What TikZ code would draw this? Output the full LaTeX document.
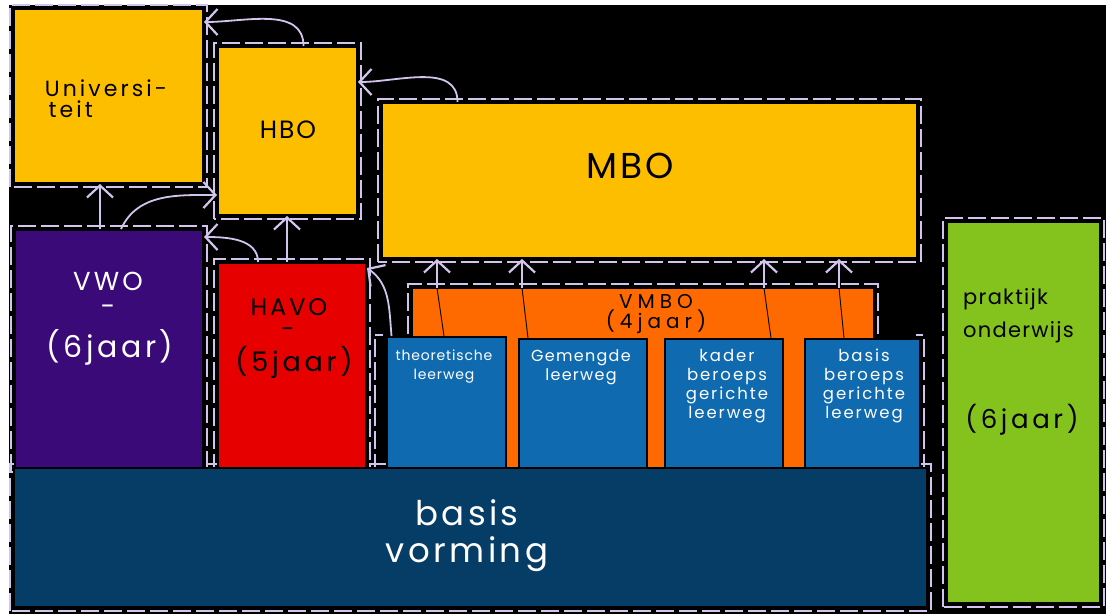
\documentclass[tikz,border=0pt]{standalone}
\usepackage{fontspec}
\setmainfont{Poppins}
\usetikzlibrary{arrows.meta}
\definecolor{yel}{HTML}{FDBE00}
\definecolor{pur}{HTML}{3A0A78}
\definecolor{redb}{HTML}{E60000}
\definecolor{ora}{HTML}{FF6A00}
\definecolor{blu}{HTML}{0F6AB0}
\definecolor{dblu}{HTML}{053D66}
\definecolor{grn}{HTML}{84C21E}
\definecolor{lav}{HTML}{D2C4EC}
\newcommand{\fs}[3]{\fontsize{#1}{#2}\selectfont\addfontfeatures{LetterSpace=#3}}
\tikzset{
  hd/.tip={Straight Barb[length=12pt,width=26pt,line width=2.2pt]},
}
\begin{document}
\begin{tikzpicture}[x=1pt,y=-1pt,
  box/.style={draw=black, line width=2pt, inner sep=0pt, rectangle},
  frame/.style={draw=lav, line width=1.3pt, dash pattern=on 18pt off 5pt},
  arr/.style={draw=lav, line width=1.8pt, -hd},
  inl/.style={draw=black, line width=0.9pt},
  lbl/.style={inner sep=0pt, align=center},
  wl/.style={lbl, text=white},
]
\useasboundingbox (0,0) rectangle (1106,614);
\fill[white] (0,0) rectangle (1106,614);
\fill[black] (9,5) rectangle (1106,614);

% coordinates of boxes (for the frames drawn underneath)
\coordinate (unisw) at (14,183);   \coordinate (unine) at (203,9);
\coordinate (hbosw) at (218,215);  \coordinate (hbone) at (357,47);
\coordinate (mbosw) at (382,258);  \coordinate (mbone) at (917,103);
\coordinate (vwosw) at (15,468);   \coordinate (vwone) at (203,230);
\coordinate (havosw) at (218,468); \coordinate (havone) at (366,263);
\coordinate (vmbosw) at (412,468); \coordinate (vmbone) at (874,288);
\coordinate (bvsw) at (14,607);    \coordinate (bvne) at (927,468);
\coordinate (praksw) at (947,603); \coordinate (prakne) at (1100,222);
\coordinate (thsw) at (387,468);   \coordinate (thne) at (506,337);
\coordinate (bbsw) at (805,468);   \coordinate (bbne) at (920,339);

% sketch frames (under the boxes)
\foreach \b in {uni,hbo,mbo,vwo,havo,vmbo,bv,prak}{
  \draw[frame] ([shift={(-4,4)}]\b sw) rectangle ([shift={(4,-4)}]\b ne);
}
\draw[frame] ([shift={(-12,4)}]thsw) -- ([shift={(-12,-2)}]thsw |- thne);
\draw[frame] ([shift={(-4,-2)}]thsw |- thne) -- ([shift={(-12,-2)}]thsw |- thne);
\draw[frame] ([shift={(4,4)}]bbne |- bbsw) -- ([shift={(4,-4)}]bbne) -- ([shift={(-4,-4)}]bbne);

% boxes
\node[box, fill=yel, minimum width=189pt, minimum height=174pt] (uni) at (108.5,96) {};
\node[box, fill=yel, minimum width=139pt, minimum height=168pt] (hbo) at (287.5,131) {};
\node[box, fill=yel, minimum width=535pt, minimum height=155pt] (mbo) at (649.5,180.5) {};
\node[box, fill=pur, minimum width=188pt, minimum height=238pt] (vwo) at (109,349) {};
\node[box, fill=redb, minimum width=148pt, minimum height=205pt] (havo) at (292,365.5) {};
\node[box, fill=ora, minimum width=462pt, minimum height=180pt] (vmbo) at (643,378) {};
\node[box, fill=blu, minimum width=119pt, minimum height=131pt] (theo) at (446.5,402.5) {};
\node[box, fill=blu, minimum width=128pt, minimum height=129pt] (gem) at (583,403.5) {};
\node[box, fill=blu, minimum width=118pt, minimum height=129pt] (kader) at (724,403.5) {};
\node[box, fill=blu, minimum width=115pt, minimum height=129pt] (basisb) at (862.5,403.5) {};
\node[box, fill=dblu, minimum width=913pt, minimum height=139pt] (bv) at (470.5,537.5) {};
\node[box, fill=grn, minimum width=153pt, minimum height=381pt] (prak) at (1023.5,412.5) {};

% labels
\node[lbl, align=left, font=\fs{22}{21}{14}] (unit) at (106,99) {Universi-\\\,teit};
\node[lbl, font=\fs{25}{24}{8}] (hbot) at (288,130) {HBO};
\node[lbl, font=\fs{36}{32}{8}] (mbot) at (630,166) {MBO};
\node[wl, font=\fs{26}{24}{12}] (vwot1) at (108,281) {VWO};
\node[wl, font=\fs{26}{24}{12}] (vwot2) at (108,310) {-};
\node[wl, font=\fs{30}{28}{12}] (vwot3) at (110,347) {(6jaar)};
\node[lbl, font=\fs{24}{24}{12}] (havot1) at (289,307) {HAVO};
\node[lbl, font=\fs{24}{24}{12}] (havot2) at (288,333) {-};
\node[lbl, font=\fs{27}{26}{14}] (havot3) at (294,362) {(5jaar)};
\node[lbl, font=\fs{20}{18}{25}] (vmbot) at (656,314) {VMBO\\(4jaar)};
\node[wl, font=\fs{14}{19}{6}] (theot) at (444,367) {theoretische\\leerweg};
\node[wl, font=\fs{16}{19}{8}] (gemt) at (581,367) {Gemengde\\leerweg};
\node[wl, font=\fs{16.5}{19}{12}] (kadert) at (727,386) {kader\\beroeps\\gerichte\\leerweg};
\node[wl, font=\fs{16.5}{19}{12}] (basisbt) at (864,386) {basis\\beroeps\\gerichte\\leerweg};
\node[wl, font=\fs{34}{37}{10}] (bvt) at (467,536) {basis\\vorming};
\node[lbl, align=left, anchor=west, font=\fs{21}{33}{6}] (prakt) at (963,316) {praktijk\\onderwijs};
\node[lbl, font=\fs{26}{24}{14}] (prakt2) at (1022,420) {(6jaar)};

% connectors
\draw[arr] ([xshift=-9]vwo.north) -- ([xshift=-9]vwo.north |- uni.south);
\draw[arr] ([xshift=12]vwo.north) to[out=65,in=180] ([yshift=-64]hbo.west);
\draw[arr] ([xshift=-5]havo.north) -- ([xshift=-5]havo.north |- hbo.south);
\draw[arr] ([xshift=-34]havo.north) to[out=90,in=0] ([yshift=-8]vwo.north east);
\draw[arr] ([xshift=16]hbo.north) to[out=90,in=0] ([yshift=-14]uni.north east);
\draw[arr] ([xshift=-192]mbo.north) to[out=90,in=0] ([yshift=-36]hbo.north east);
\draw[arr] ([xshift=-55]theo.north) to[out=95,in=-35] ([yshift=-6]havo.north east);

\coordinate (t1) at (437,288);
\coordinate (t2) at (522,288);
\coordinate (t3) at (764,288);
\coordinate (t4) at (839,288);
\draw[inl] ([xshift=-2.5]theo.north) -- (t1);
\draw[inl] ([xshift=-55]gem.north) -- (t2);
\draw[inl] ([xshift=47]kader.north) -- (t3);
\draw[inl] ([xshift=-18.5]basisb.north) -- (t4);
\draw[arr] (t1) -- (t1 |- mbo.south);
\draw[arr] (t2) -- (t2 |- mbo.south);
\draw[arr] (t3) -- (t3 |- mbo.south);
\draw[arr] (t4) -- (t4 |- mbo.south);
\end{tikzpicture}
\end{document}
